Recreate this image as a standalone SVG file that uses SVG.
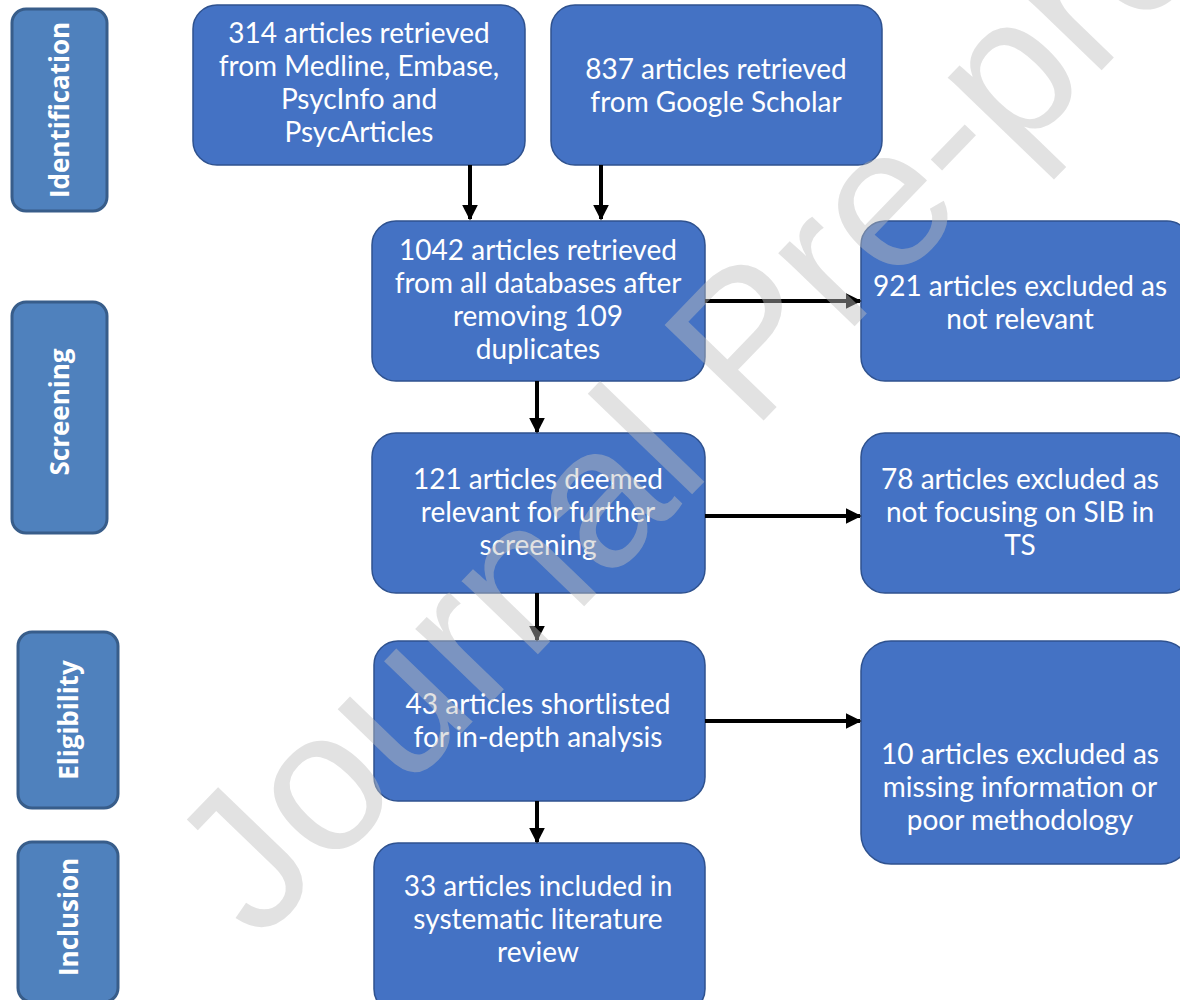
<svg xmlns="http://www.w3.org/2000/svg" width="1180" height="1000" viewBox="0 0 1180 1000">
<style>
.box{fill:#4472c4;stroke:#2f528f;stroke-width:1.5}
.side{fill:#4f81bd;stroke:#385d8a;stroke-width:3}
.t{font-family:Lato,"Open Sans","Liberation Sans",sans-serif;font-size:28px;fill:#ffffff;text-anchor:middle}
.s{font-family:"Open Sans","Liberation Sans",sans-serif;font-size:26px;font-weight:bold;fill:#ffffff;text-anchor:middle}
.c{stroke:#000;stroke-width:4;fill:none}
.wm{font-family:"Liberation Sans",Arial,sans-serif;font-size:200px;fill:#bfbfbf;fill-opacity:0.45}
</style>
<defs>
<marker id="ah" viewBox="0 0 10 10" refX="9" refY="5" markerWidth="4" markerHeight="4" orient="auto" markerUnits="strokeWidth">
<path d="M0,0 L10,5 L0,10 z" fill="#000"/>
</marker>
</defs>
<g id="side-identification"><rect class="side" x="12" y="9" width="95" height="202" rx="14"/><text class="s" transform="translate(69,110) rotate(-90)">Identification</text></g>
<g id="side-screening"><rect class="side" x="12" y="302" width="95" height="231" rx="14"/><text class="s" transform="translate(69,412) rotate(-90)">Screening</text></g>
<g id="side-eligibility"><rect class="side" x="18" y="632" width="100" height="176" rx="14"/><text class="s" transform="translate(78,720) rotate(-90)">Eligibility</text></g>
<g id="side-inclusion"><rect class="side" x="18" y="842" width="100" height="160" rx="14"/><text class="s" transform="translate(78,917) rotate(-90)">Inclusion</text></g>

<g id="n-314"><rect class="box" x="193" y="5" width="332" height="160" rx="24"/>
<text class="t" x="359" y="43">314 articles retrieved</text><text class="t" x="359" y="76">from Medline, Embase,</text><text class="t" x="359" y="109">PsycInfo and</text><text class="t" x="359" y="142">PsycArticles</text></g>
<g id="n-837"><rect class="box" x="551" y="5" width="331" height="160" rx="24"/>
<text class="t" x="716" y="79">837 articles retrieved</text><text class="t" x="716" y="112">from Google Scholar</text></g>
<g id="n-1042"><rect class="box" x="372" y="221" width="333" height="160" rx="24"/>
<text class="t" x="538" y="260">1042 articles retrieved</text><text class="t" x="538" y="293">from all databases after</text><text class="t" x="538" y="326">removing 109</text><text class="t" x="538" y="359">duplicates</text></g>
<g id="n-921"><rect class="box" x="861" y="221" width="330" height="160" rx="24"/>
<text class="t" x="1020" y="296">921 articles excluded as</text><text class="t" x="1020" y="329">not relevant</text></g>
<g id="n-121"><rect class="box" x="372" y="433" width="333" height="160" rx="24"/>
<text class="t" x="538" y="489">121 articles deemed</text><text class="t" x="538" y="522">relevant for further</text><text class="t" x="538" y="555">screening</text></g>
<g id="n-78"><rect class="box" x="861" y="433" width="330" height="160" rx="24"/>
<text class="t" x="1020" y="489">78 articles excluded as</text><text class="t" x="1020" y="522">not focusing on SIB in</text><text class="t" x="1020" y="555">TS</text></g>
<g id="n-43"><rect class="box" x="374" y="641" width="331" height="160" rx="24"/>
<text class="t" x="538" y="714">43 articles shortlisted</text><text class="t" x="538" y="747">for in-depth analysis</text></g>
<g id="n-10"><rect class="box" x="861" y="641" width="330" height="223" rx="30"/>
<text class="t" x="1020" y="764">10 articles excluded as</text><text class="t" x="1020" y="797">missing information or</text><text class="t" x="1020" y="830">poor methodology</text></g>
<g id="n-33"><rect class="box" x="374" y="843" width="331" height="170" rx="24"/>
<text class="t" x="538" y="896">33 articles included in</text><text class="t" x="538" y="929">systematic literature</text><text class="t" x="538" y="962">review</text></g>

<g id="connectors">
<line class="c" x1="470" y1="165" x2="470" y2="219" marker-end="url(#ah)"/>
<line class="c" x1="601" y1="165" x2="601" y2="219" marker-end="url(#ah)"/>
<line class="c" x1="537" y1="381" x2="537" y2="432" marker-end="url(#ah)"/>
<line class="c" x1="537" y1="593" x2="537" y2="640" marker-end="url(#ah)"/>
<line class="c" x1="537" y1="801" x2="537" y2="842" marker-end="url(#ah)"/>
<line class="c" x1="705" y1="301" x2="860" y2="301" marker-end="url(#ah)"/>
<line class="c" x1="705" y1="516" x2="860" y2="516" marker-end="url(#ah)"/>
<line class="c" x1="705" y1="721" x2="860" y2="721" marker-end="url(#ah)"/>
</g>

<text class="wm" transform="translate(258,944) rotate(-46)">Journal Pre-proof</text>
</svg>
